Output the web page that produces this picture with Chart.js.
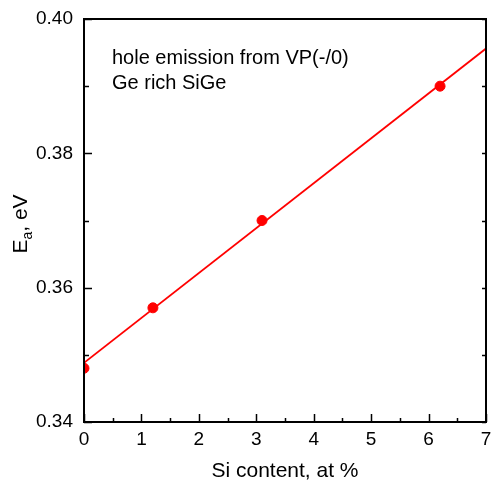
<!DOCTYPE html>
<html>
<head>
<meta charset="utf-8">
<script src="https://cdn.jsdelivr.net/npm/chart.js@4.4.1/dist/chart.umd.min.js"></script>
<style>
  html, body { margin: 0; padding: 0; background: #fff; }
  #wrap { width: 492px; height: 484px; }
</style>
</head>
<body>
<div id="wrap"><canvas id="chart"></canvas></div>
<script>
// data
const siContent = [0, 1.2, 3.1, 6.2];
const activationEnergy = [0.348, 0.357, 0.370, 0.390];
// linear fit drawn across the whole x range
const fitX = [0, 7];
const fitY = [0.3488, 0.3956];
const noteLines = ['hole emission from VP(-/0)', 'Ge rich SiGe'];

const FONT = '"Liberation Sans", Arial, Helvetica, sans-serif';

function toPoints(xs, ys) {
  return xs.map((x, i) => ({x: x, y: ys[i]}));
}

// frame, inward ticks, note text and the y title with subscript
const framePlugin = {
  id: 'frame',
  afterDraw(chart) {
    const ctx = chart.ctx;
    const a = chart.chartArea;
    const xs = chart.scales.x;
    const ys = chart.scales.y;
    ctx.save();
    ctx.strokeStyle = '#000';
    ctx.lineWidth = 2;
    ctx.strokeRect(a.left, a.top, a.right - a.left, a.bottom - a.top);

    ctx.lineWidth = 1.5;
    ctx.beginPath();
    // x ticks on bottom
    for (let v = 0; v <= 7; v += 0.5) {
      const px = Math.round(xs.getPixelForValue(v)) + 0.5;
      const len = Number.isInteger(v) ? 8 : 4;
      ctx.moveTo(px, a.bottom);
      ctx.lineTo(px, a.bottom - len);
    }
    // y ticks left and right
    for (let k = 0; k <= 6; k++) {
      const v = 0.34 + k * 0.01;
      const py = Math.round(ys.getPixelForValue(v)) + 0.5;
      const len = k % 2 === 0 ? 8 : 5;
      ctx.moveTo(a.left, py);
      ctx.lineTo(a.left + len, py);
      ctx.moveTo(a.right, py);
      ctx.lineTo(a.right - 4, py);
    }
    ctx.stroke();

    // note
    ctx.fillStyle = '#000';
    ctx.font = '20px ' + FONT;
    ctx.textBaseline = 'alphabetic';
    ctx.textAlign = 'left';
    ctx.fillText(noteLines[0], 112, 64);
    ctx.fillText(noteLines[1], 112, 89);

    // y title: E_a, eV
    ctx.translate(27, 224);
    ctx.rotate(-Math.PI / 2);
    const big = '21px ' + FONT;
    const small = '14px ' + FONT;
    ctx.font = big;
    const wE = ctx.measureText('E').width;
    ctx.font = small;
    const wa = ctx.measureText('a').width;
    ctx.font = big;
    const wRest = ctx.measureText(', eV').width;
    let x = -(wE + wa + wRest) / 2;
    ctx.fillText('E', x, 0);
    x += wE;
    ctx.font = small;
    ctx.fillText('a', x, 5);
    x += wa;
    ctx.font = big;
    ctx.fillText(', eV', x, 0);
    ctx.restore();
  }
};

new Chart(document.getElementById('chart'), {
  type: 'scatter',
  data: {
    datasets: [
      {
        label: 'fit',
        data: toPoints(fitX, fitY),
        showLine: true,
        borderColor: '#ff0000',
        borderWidth: 1.8,
        pointRadius: 0,
        fill: false
      },
      {
        label: 'Ea',
        data: toPoints(siContent, activationEnergy),
        backgroundColor: '#ff0000',
        borderColor: '#ff0000',
        pointRadius: 5,
        pointHoverRadius: 5
      }
    ]
  },
  options: {
    responsive: true,
    maintainAspectRatio: false,
    animation: false,
    events: [],
    layout: { padding: { top: 19, right: 5, left: 0, bottom: 0 } },
    plugins: {
      legend: { display: false },
      tooltip: { enabled: false }
    },
    scales: {
      x: {
        type: 'linear',
        min: 0,
        max: 7,
        grid: { display: false, drawTicks: false },
        border: { display: false },
        ticks: {
          stepSize: 1,
          padding: 6,
          color: '#000',
          font: { family: FONT, size: 19 }
        },
        title: {
          display: true,
          text: 'Si content, at %',
          color: '#000',
          font: { family: FONT, size: 21 },
          padding: { top: 5, bottom: 0 }
        },
        afterFit(scale) {
          scale.height = 62;
          scale.paddingLeft = 0;
          scale.paddingRight = 0;
        }
      },
      y: {
        type: 'linear',
        min: 0.34,
        max: 0.40,
        grid: { display: false, drawTicks: false },
        border: { display: false },
        ticks: {
          stepSize: 0.01,
          padding: 11,
          color: '#000',
          font: { family: FONT, size: 19 },
          callback(v) {
            const k = Math.round((v - 0.34) * 100);
            return k % 2 === 0 ? v.toFixed(2) : '';
          }
        },
        afterFit(scale) {
          scale.width = 84;
          scale.paddingTop = 0;
          scale.paddingBottom = 0;
        }
      }
    }
  },
  plugins: [framePlugin]
});
</script>
</body>
</html>
